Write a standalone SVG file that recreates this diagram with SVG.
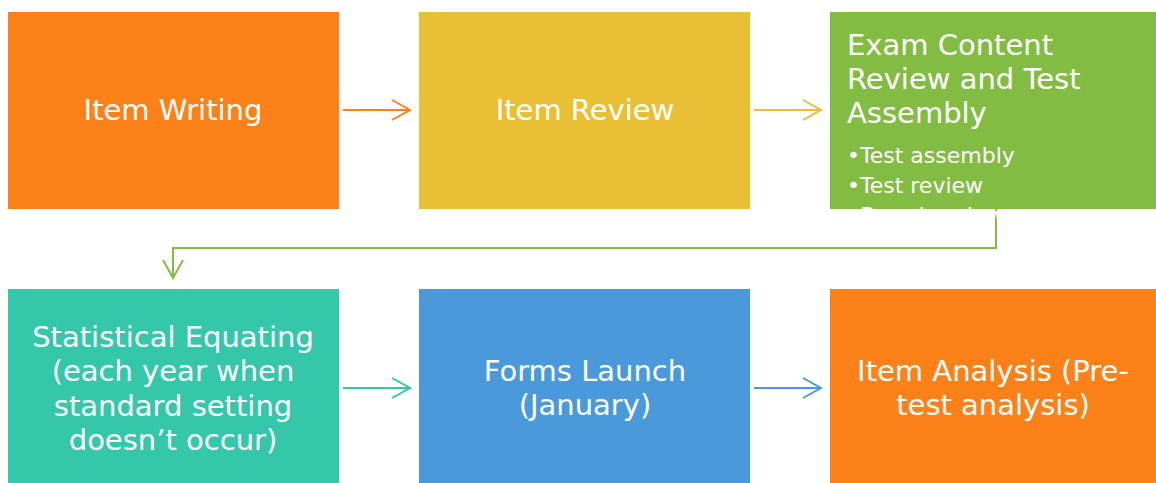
<svg xmlns="http://www.w3.org/2000/svg" width="1156" height="483" viewBox="0 0 1156 483">
<defs>
<style>
.t{font-family:"DejaVu Sans","Liberation Sans",sans-serif;fill:#fff;font-size:29px;}
.tc{text-anchor:middle;}
.b{font-size:22px;}
.c{fill:none;stroke-width:2;}
</style>
<marker id="mo" markerUnits="userSpaceOnUse" markerWidth="24" markerHeight="24" viewBox="-20 -12 24 24" refX="0" refY="0" orient="auto"><path d="M-18,-10 L0,0 L-18,10" fill="none" stroke="#FD8119" stroke-width="2"/></marker>
<marker id="my" markerUnits="userSpaceOnUse" markerWidth="24" markerHeight="24" viewBox="-20 -12 24 24" refX="0" refY="0" orient="auto"><path d="M-18,-10 L0,0 L-18,10" fill="none" stroke="#E8C034" stroke-width="2"/></marker>
<marker id="mg" markerUnits="userSpaceOnUse" markerWidth="24" markerHeight="24" viewBox="-20 -12 24 24" refX="0" refY="0" orient="auto"><path d="M-18,-10 L0,0 L-18,10" fill="none" stroke="#83BC42" stroke-width="2"/></marker>
<marker id="mt" markerUnits="userSpaceOnUse" markerWidth="24" markerHeight="24" viewBox="-20 -12 24 24" refX="0" refY="0" orient="auto"><path d="M-18,-10 L0,0 L-18,10" fill="none" stroke="#35C7A9" stroke-width="2"/></marker>
<marker id="mb" markerUnits="userSpaceOnUse" markerWidth="24" markerHeight="24" viewBox="-20 -12 24 24" refX="0" refY="0" orient="auto"><path d="M-18,-10 L0,0 L-18,10" fill="none" stroke="#4A9ADB" stroke-width="2"/></marker>
</defs>
<rect width="1156" height="483" fill="#fff"/>
<g id="connectors">
<path class="c" stroke="#FD8119" d="M343,110 H410" marker-end="url(#mo)"/>
<path class="c" stroke="#E8C034" d="M754,110 H821" marker-end="url(#my)"/>
<path class="c" stroke="#83BC42" d="M996,209 V248 H173 V278" marker-end="url(#mg)"/>
<path class="c" stroke="#35C7A9" d="M343,388 H410" marker-end="url(#mt)"/>
<path class="c" stroke="#4A9ADB" d="M754,388 H821" marker-end="url(#mb)"/>
</g>
<g id="item-writing">
<rect x="8" y="12" width="331" height="197" fill="#FD8119"/>
<text class="t tc" x="173" y="120">Item Writing</text>
</g>
<g id="item-review">
<rect x="419" y="12" width="331" height="197" fill="#E8C034"/>
<text class="t tc" x="585" y="120">Item Review</text>
</g>
<g id="exam-content-review">
<rect x="830" y="12" width="326" height="197" fill="#83BC42"/>
<text class="t" x="847" y="55">Exam Content</text>
<text class="t" x="847" y="89">Review and Test</text>
<text class="t" x="847" y="123">Assembly</text>
<text class="t b" x="847" y="163">•Test assembly</text>
<text class="t b" x="847" y="193">•Test review</text>
<text class="t b" x="847" y="223">•Board review</text>
</g>
<g id="statistical-equating">
<rect x="8" y="289" width="331" height="194" fill="#35C7A9"/>
<text class="t tc" x="173" y="347">Statistical Equating</text>
<text class="t tc" x="173" y="381">(each year when</text>
<text class="t tc" x="173" y="416">standard setting</text>
<text class="t tc" x="173" y="450">doesn’t occur)</text>
</g>
<g id="forms-launch">
<rect x="419" y="289" width="331" height="194" fill="#4A9ADB"/>
<text class="t tc" x="585" y="381">Forms Launch</text>
<text class="t tc" x="585" y="415">(January)</text>
</g>
<g id="item-analysis">
<rect x="830" y="289" width="326" height="194" fill="#FD8119"/>
<text class="t tc" x="993" y="381">Item Analysis (Pre-</text>
<text class="t tc" x="993" y="415">test analysis)</text>
</g>
</svg>
